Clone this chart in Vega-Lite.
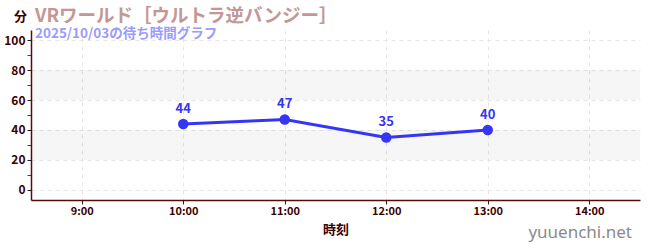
{
  "$schema": "https://vega.github.io/schema/vega-lite/v6.json",
  "width": 609,
  "height": 170,
  "autosize": {"type": "none"},
  "padding": {"left": 31, "top": 30, "right": 10, "bottom": 50},
  "background": "white",
  "config": {
    "font": "Noto Sans CJK JP",
    "view": {"stroke": null}
  },
  "title": {
    "text": "VRワールド［ウルトラ逆バンジー］",
    "subtitle": "2025/10/03の待ち時間グラフ",
    "anchor": "start",
    "frame": "group",
    "orient": "top",
    "offset": -9,
    "dx": 4,
    "dy": 21,
    "fontSize": 18.5,
    "fontWeight": "bold",
    "color": "#c49696",
    "subtitleFontSize": 13.5,
    "subtitleFontWeight": "bold",
    "subtitleColor": "#9b9bff",
    "subtitlePadding": 1
  },
  "datasets": {
    "bands": [{"wait": 20, "hi": 40}, {"wait": 60, "hi": 80}],
    "waits": [
      {"time": "2025-10-03T10:00:00", "wait": 44},
      {"time": "2025-10-03T11:00:00", "wait": 47},
      {"time": "2025-10-03T12:00:00", "wait": 35},
      {"time": "2025-10-03T13:00:00", "wait": 40}
    ],
    "site": [{"t": "yuuenchi.net"}]
  },
  "encoding": {
    "y": {
      "field": "wait", "type": "quantitative",
      "scale": {"domain": [-6.67, 106.67], "nice": false, "zero": false},
      "axis": {
        "title": "分",
        "titleAngle": 0,
        "titleX": -11,
        "titleY": -14,
        "titleAlign": "center",
        "titleBaseline": "middle",
        "titleFontSize": 13,
        "titleFontWeight": "bold",
        "titleColor": "#3a0000",
        "values": [0, 10, 20, 30, 40, 50, 60, 70, 80, 90, 100],
        "labelExpr": "(datum.value % 20) == 0 ? datum.label : ''",
        "labelOverlap": false,
        "labelFontSize": 12,
        "labelFontWeight": "bold",
        "labelColor": "#3a0000",
        "labelPadding": 2,
        "domainColor": "#5a0a0a",
        "domainWidth": 1.5,
        "tickColor": {"condition": {"test": "(datum.value % 20) == 10", "value": "#e00000"}, "value": "#222222"},
        "tickSize": 4,
        "grid": true,
        "gridColor": {"condition": {"test": "(datum.value % 20) == 10", "value": "transparent"}, "value": "#e6e6e6"},
        "gridDash": [4, 4]
      }
    }
  },
  "layer": [
    {
      "data": {"name": "bands"},
      "mark": {"type": "rect", "color": "#000000", "opacity": 0.035},
      "encoding": {
        "y2": {"field": "hi"}
      }
    },
    {
      "data": {"name": "waits"},
      "mark": {"type": "line", "color": "#3535f5", "strokeWidth": 3},
      "encoding": {
        "x": {
          "field": "time", "type": "temporal",
          "scale": {"domain": ["2025-10-03T08:30:00", "2025-10-03T14:30:00"]},
          "axis": {
            "title": "時刻",
            "titleFontSize": 13,
            "titleFontWeight": "bold",
            "titleColor": "#3a0000",
            "titlePadding": 7,
            "format": "%-H:%M",
            "tickCount": 6,
            "labelFontSize": 11,
            "labelFontWeight": "bold",
            "labelColor": "#3a0000",
            "labelPadding": 1,
            "domainColor": "#5a0a0a",
            "domainWidth": 1.5,
            "tickColor": "#5a0a0a",
            "tickSize": 4,
            "grid": true,
            "gridColor": "#e6e6e6",
            "gridDash": [4, 4],
            "labelFlush": false
          }
        }
      }
    },
    {
      "data": {"name": "waits"},
      "mark": {"type": "point", "filled": true, "size": 110, "color": "#3535f5", "opacity": 1},
      "encoding": {
        "x": {"field": "time", "type": "temporal"}
      }
    },
    {
      "data": {"name": "waits"},
      "mark": {"type": "text", "dy": -15, "fontSize": 13, "fontWeight": "bold", "color": "#3535f5"},
      "encoding": {
        "x": {"field": "time", "type": "temporal"},
        "text": {"field": "wait", "type": "quantitative"}
      }
    },
    {
      "data": {"name": "site"},
      "mark": {"type": "text", "align": "right", "baseline": "middle", "fontSize": 17, "color": "#8a8a8a", "font": "Noto Sans"},
      "encoding": {
        "x": {"value": 601},
        "y": {"value": 203},
        "text": {"field": "t", "type": "nominal"}
      }
    }
  ]
}
